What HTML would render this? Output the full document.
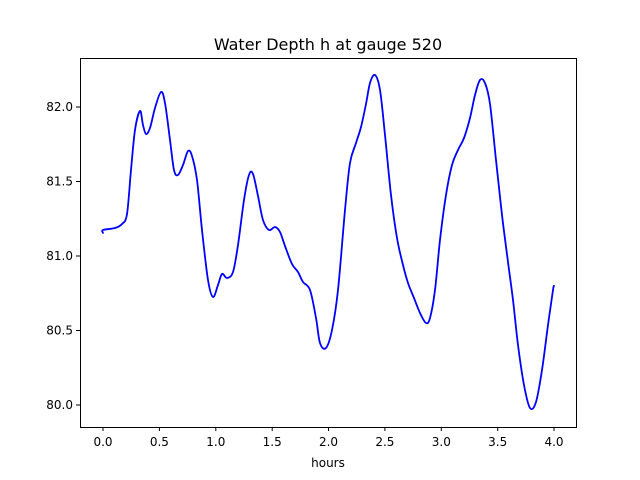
<!DOCTYPE html>
<html><head><meta charset="utf-8"><style>
html,body{margin:0;padding:0;background:#fff;}
svg{display:block;font-family:"DejaVu Sans","Liberation Sans",sans-serif;}
</style></head><body>
<svg width="640" height="480" viewBox="0 0 640 480" xmlns="http://www.w3.org/2000/svg">
<rect width="640" height="480" fill="#fff"/>
<text x="328" y="50" font-size="16" text-anchor="middle" fill="#000">Water Depth h at gauge 520</text>
<polyline id="pl" fill="none" stroke="#0000ff" stroke-width="1.8" stroke-linejoin="round" stroke-linecap="round" points="103,233 103,230 115,228 122,224 127,214 131,170 135,130 140,111 143,125 146,134 150,128 155,108 161,92 165,103 170,140 174,170 178,175 183,165 188,151 192,156 197,180 202,230 208,280 213,297 218,285 222,274 227,278 233,272 238,245 244,200 249,175 253,174 258,196 263,220 269,230 275,227 280,232 285,246 292,264 298,272 303,282 310,290 316,318 320,343 326,348 332,330 338,290 345,210 350,163 356,143 361,127 366,104 370,83 375,75 380,90 385,135 391,195 397,238 403,265 408,283 414,298 420,313 426,323 430,318 435,290 440,240 446,195 452,165 458,150 464,138 470,118 475,95 480,80 485,83 490,104 496,160 502,215 508,262 513,300 518,345 524,385 530,408 536,402 542,370 548,325 553,290 554,286"/>
<path id="sp" fill="none" stroke="#0000ff" stroke-width="1.8" stroke-linejoin="round" stroke-linecap="round" d=""/>
<rect x="80.5" y="58.5" width="496" height="369" fill="none" stroke="#000" stroke-width="1"/>
<g stroke="#000" stroke-width="1">
<line x1="103" y1="427" x2="103" y2="431"/><line x1="159.4" y1="427" x2="159.4" y2="431"/>
<line x1="215.8" y1="427" x2="215.8" y2="431"/><line x1="272.2" y1="427" x2="272.2" y2="431"/>
<line x1="328.5" y1="427" x2="328.5" y2="431"/><line x1="384.9" y1="427" x2="384.9" y2="431"/>
<line x1="441.3" y1="427" x2="441.3" y2="431"/><line x1="497.7" y1="427" x2="497.7" y2="431"/>
<line x1="554" y1="427" x2="554" y2="431"/>
<line x1="76" y1="405" x2="80" y2="405"/><line x1="76" y1="330.5" x2="80" y2="330.5"/>
<line x1="76" y1="256" x2="80" y2="256"/><line x1="76" y1="181.5" x2="80" y2="181.5"/>
<line x1="76" y1="107" x2="80" y2="107"/>
</g>
<g font-size="12" fill="#000" text-anchor="middle">
<text x="103" y="446">0.0</text><text x="159.4" y="446">0.5</text><text x="215.8" y="446">1.0</text>
<text x="272.2" y="446">1.5</text><text x="328.5" y="446">2.0</text><text x="384.9" y="446">2.5</text>
<text x="441.3" y="446">3.0</text><text x="497.7" y="446">3.5</text><text x="554" y="446">4.0</text>
<text x="328" y="467">hours</text>
</g>
<g font-size="12" fill="#000" text-anchor="end">
<text x="73" y="409">80.0</text><text x="73" y="334.5">80.5</text><text x="73" y="260">81.0</text>
<text x="73" y="185.5">81.5</text><text x="73" y="111">82.0</text>
</g>
</svg>
<script>
(function(){
var pl=document.getElementById('pl');
var p=pl.getAttribute('points').trim().split(/\s+/).map(function(s){return s.split(',').map(Number);});
var d='M'+p[0][0]+','+p[0][1];
for(var i=0;i<p.length-1;i++){
var p0=p[i-1]||p[i],p1=p[i],p2=p[i+1],p3=p[i+2]||p2;
var c1x=p1[0]+(p2[0]-p0[0])/6,c1y=p1[1]+(p2[1]-p0[1])/6;
var c2x=p2[0]-(p3[0]-p1[0])/6,c2y=p2[1]-(p3[1]-p1[1])/6;
d+=' C'+c1x.toFixed(2)+','+c1y.toFixed(2)+' '+c2x.toFixed(2)+','+c2y.toFixed(2)+' '+p2[0]+','+p2[1];
}
document.getElementById('sp').setAttribute('d',d);
pl.style.display='none';
})();
</script>
</body></html>
